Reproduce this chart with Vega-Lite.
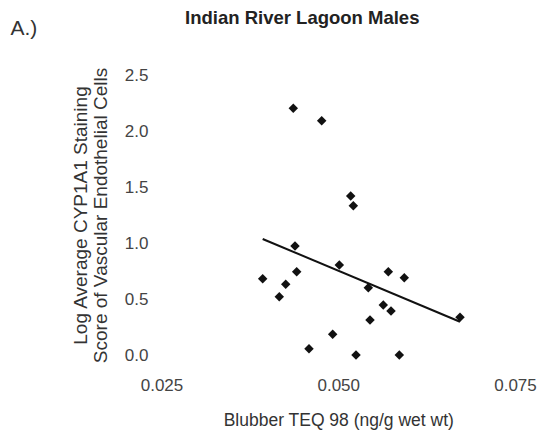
{
  "$schema": "https://vega.github.io/schema/vega-lite/v6.json",
  "width": 353.5,
  "height": 280,
  "autosize": "none",
  "padding": {"left": 161.5, "top": 75, "right": 26, "bottom": 79},
  "background": "white",
  "config": {
    "view": {"stroke": null},
    "font": "Liberation Sans",
    "axis": {"grid": false, "domain": false, "ticks": false, "labelFont": "Liberation Sans", "titleFont": "Liberation Sans", "labelColor": "#444444", "titleColor": "#333333", "titleFontWeight": "normal"}
  },
  "title": {
    "text": "Indian River Lagoon Males",
    "font": "Liberation Sans",
    "fontSize": 18.5,
    "fontWeight": "bold",
    "color": "#222222",
    "anchor": "middle",
    "frame": "group",
    "dx": -36,
    "offset": -10
  },
  "datasets": {
    "pts": [
      {"teq": 0.04364, "score": 2.203},
      {"teq": 0.04766, "score": 2.092},
      {"teq": 0.05176, "score": 1.420},
      {"teq": 0.05213, "score": 1.333},
      {"teq": 0.04388, "score": 0.973},
      {"teq": 0.05015, "score": 0.804},
      {"teq": 0.04412, "score": 0.744},
      {"teq": 0.05708, "score": 0.744},
      {"teq": 0.05934, "score": 0.690},
      {"teq": 0.03931, "score": 0.681},
      {"teq": 0.04257, "score": 0.631},
      {"teq": 0.04166, "score": 0.521},
      {"teq": 0.05425, "score": 0.601},
      {"teq": 0.05637, "score": 0.446},
      {"teq": 0.05746, "score": 0.393},
      {"teq": 0.05449, "score": 0.312},
      {"teq": 0.06722, "score": 0.337},
      {"teq": 0.04921, "score": 0.185},
      {"teq": 0.04586, "score": 0.056},
      {"teq": 0.05251, "score": 0.0},
      {"teq": 0.05864, "score": 0.0}
    ],
    "fit": [
      {"teq": 0.03931, "score": 1.036},
      {"teq": 0.06722, "score": 0.297}
    ]
  },
  "layer": [
    {
      "data": {"name": "fit"},
      "mark": {"type": "line", "color": "#111111", "strokeWidth": 2},
      "encoding": {
        "x": {"field": "teq", "type": "quantitative", "scale": {"domain": [0.025, 0.075], "nice": false, "zero": false},
          "axis": {"orient": "top", "title": "A.)", "labels": false, "titleFontSize": 21, "titleColor": "#333333", "titleX": -151.5, "titleY": -47, "titleAlign": "left", "titleBaseline": "middle", "titleAngle": 0}},
        "y": {"field": "score", "type": "quantitative"}
      }
    },
    {
      "data": {"name": "pts"},
      "mark": {"type": "point", "shape": "diamond", "filled": true, "color": "#111111", "size": 90, "opacity": 1},
      "encoding": {
        "x": {"field": "teq", "type": "quantitative", "scale": {"domain": [0.025, 0.075], "nice": false, "zero": false},
          "axis": {"orient": "bottom", "values": [0.025, 0.05, 0.075], "format": ".3f", "labelFlush": false, "labelFontSize": 17, "labelPadding": 22, "title": "Blubber TEQ 98 (ng/g wet wt)", "titleFontSize": 17.5, "titlePadding": 18}},
        "y": {"field": "score", "type": "quantitative", "scale": {"domain": [0, 2.5], "nice": false},
          "axis": {"values": [0, 0.5, 1, 1.5, 2, 2.5], "format": ".1f", "labelFontSize": 17, "labelPadding": 13.5, "title": ["Log Average CYP1A1 Staining", "Score of Vascular Endothelial Cells"], "titleFontSize": 19, "titleLineHeight": 20, "titlePadding": 14}}
      }
    }
  ],
  "resolve": {"axis": {"x": "independent"}}
}
